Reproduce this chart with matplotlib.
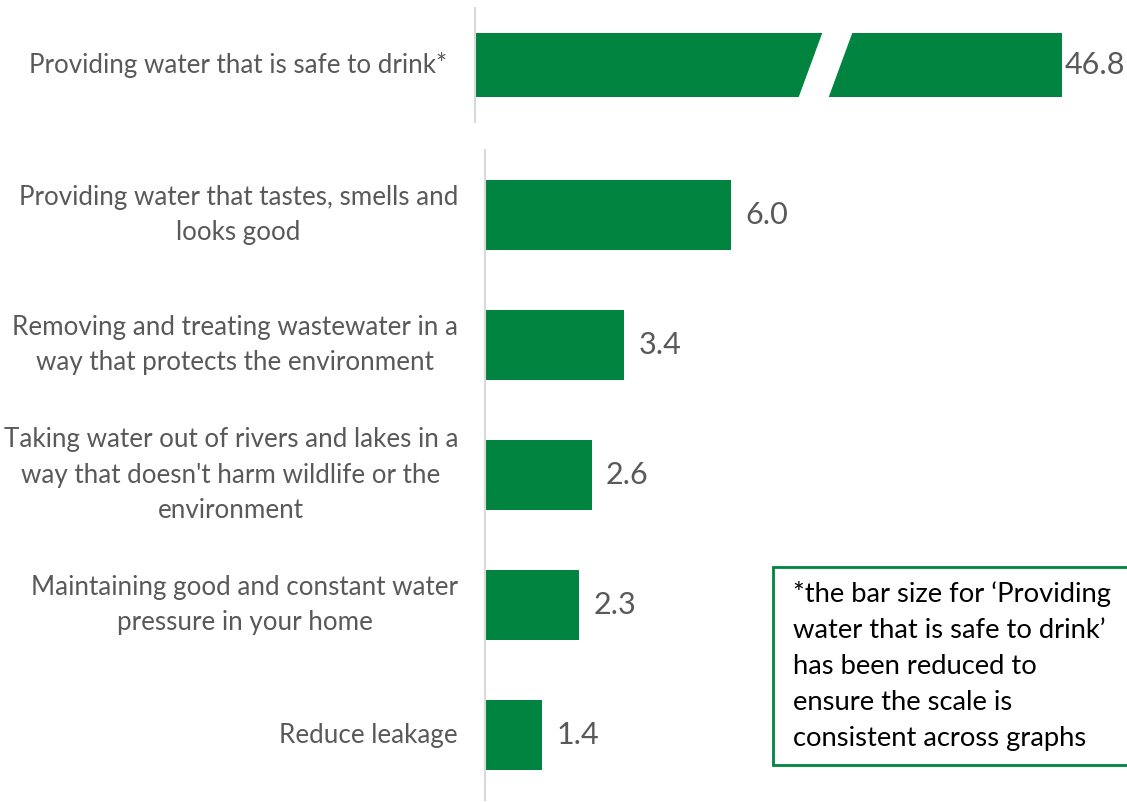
import matplotlib
matplotlib.use("Agg")
import matplotlib.pyplot as plt
from matplotlib.patches import Polygon, Rectangle

plt.rcParams['font.family'] = ['Lato', 'DejaVu Sans']

# Data
top_category = "Providing water that is safe to drink*"
top_value = 46.8

categories = [
    "Providing water that tastes, smells and\nlooks good",
    "Removing and treating wastewater in a\nway that protects the environment",
    "Taking water out of rivers and lakes in a\nway that doesn't harm wildlife or the\nenvironment",
    "Maintaining good and constant water\npressure in your home",
    "Reduce leakage",
]
values = [6.0, 3.4, 2.6, 2.3, 1.4]

note = ("*the bar size for \u2018Providing\nwater that is safe to drink\u2019\n"
        "has been reduced to\nensure the scale is\nconsistent across graphs")

GREEN = "#00843F"
LABEL = "#595959"
AXIS = "#D9D9D9"

W, H = 1127, 802
fig = plt.figure(figsize=(W / 100, H / 100), dpi=100)

def frac(x0, y0, x1, y1):
    return [x0 / W, 1 - y1 / H, (x1 - x0) / W, (y1 - y0) / H]

# Lower chart: regular scale
px_per_unit = 41.0
ax = fig.add_axes(frac(485, 150, W, 800))
ax.set_xlim(0, (W - 485) / px_per_unit)
ax.set_ylim(len(values) - 0.5, -0.5)
ypos = list(range(len(values)))
ax.barh(ypos, values, height=0.545, color=GREEN, left=0)
for y, v in zip(ypos, values):
    ax.text(v + 14 / px_per_unit, y, f"{v:.1f}", va="center", ha="left",
            fontsize=22, color=LABEL)
for y, c in zip(ypos, categories):
    ax.text(-27 / px_per_unit, y, c, va="center", ha="right",
            multialignment="center", fontsize=18.7, color=LABEL, linespacing=1.52)
for s in ["top", "right", "bottom"]:
    ax.spines[s].set_visible(False)
ax.spines["left"].set_color(AXIS)
ax.spines["left"].set_linewidth(1.5)
ax.set_xticks([])
ax.set_yticks([])

# Upper chart: the large bar on a compressed scale with a break mark
ax2 = fig.add_axes(frac(475, 8, W, 122))
bar_px = 1063 - 476
span = top_value * (W - 475) / bar_px
ax2.set_xlim(0, span)
ax2.set_ylim(0.5, -0.5)
ax2.barh([0], [top_value], height=64 / 114, color=GREEN)
ax2.text(top_value + 3 * span / (W - 475), 0, f"{top_value:.1f}", va="center",
         ha="left", fontsize=22, color=LABEL)
ax2.text(-28 * span / (W - 475), 0, top_category, va="center", ha="right",
         fontsize=18.7, color=LABEL)

# White slanted band marking the axis break
def to_ax2(px, py):
    return ((px - 475) / (W - 475), 1 - (py - 8) / 114)

band = [to_ax2(798, 99), to_ax2(823, 31), to_ax2(853, 31), to_ax2(828, 99)]
ax2.add_patch(Polygon(band, closed=True, transform=ax2.transAxes,
                      facecolor="white", edgecolor="none", zorder=5))
for s in ["top", "right", "bottom"]:
    ax2.spines[s].set_visible(False)
ax2.spines["left"].set_color(AXIS)
ax2.spines["left"].set_linewidth(1.5)
ax2.set_xticks([])
ax2.set_yticks([])

# Footnote box
fig.patches.append(Rectangle((773 / W, 1 - 765 / H), (W + 5 - 773) / W, (765 - 567) / H,
                             transform=fig.transFigure, facecolor="white",
                             edgecolor=GREEN, linewidth=2, zorder=10))
fig.text(793 / W, 1 - 666 / H, note, ha="left", va="center", fontsize=19.7,
         color="black", linespacing=1.55, zorder=11)

fig.savefig("out.png", dpi=100)
